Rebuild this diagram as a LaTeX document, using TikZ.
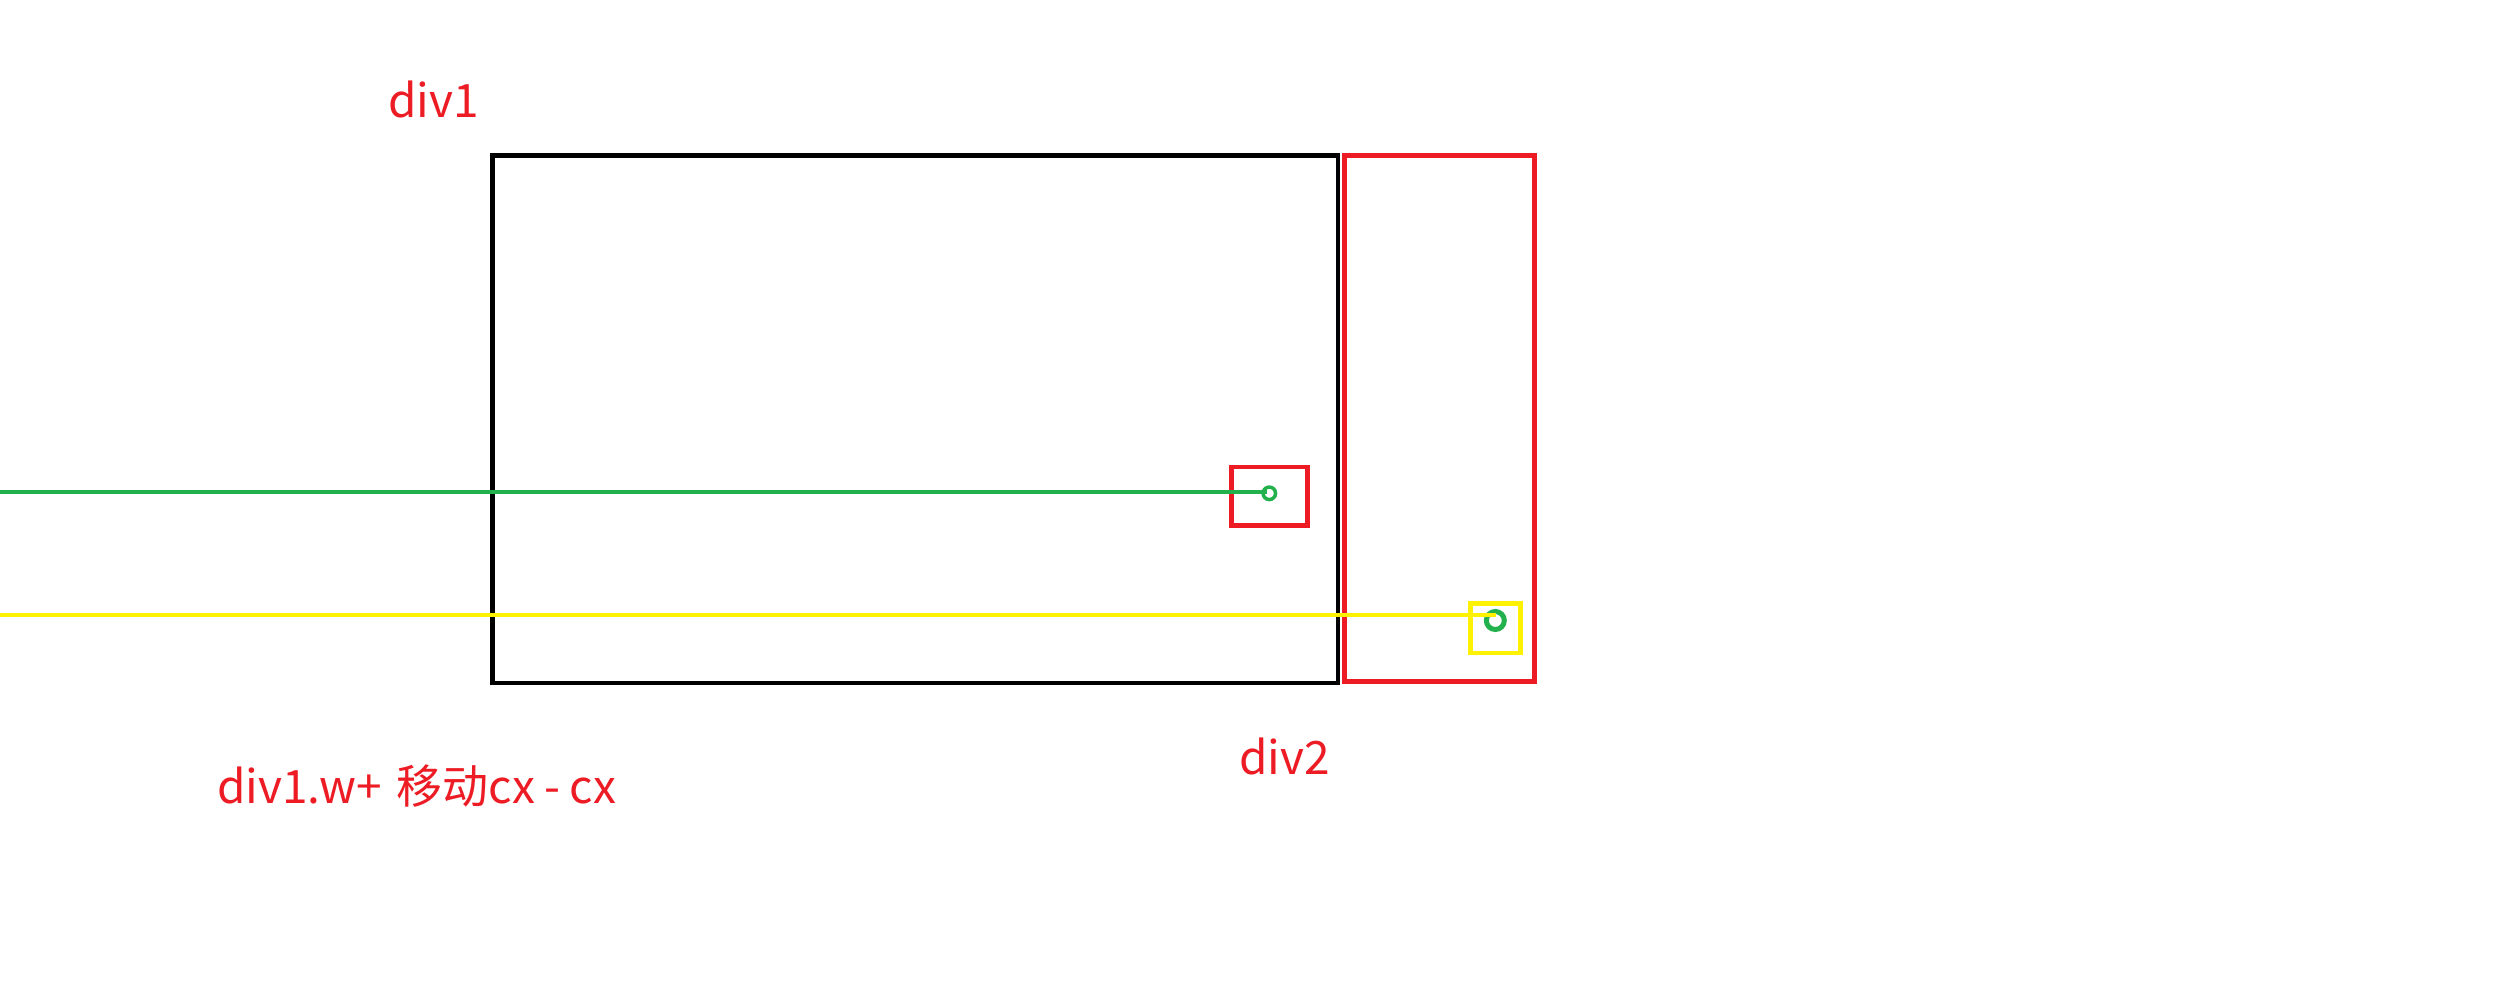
\documentclass[tikz,border=0pt]{standalone}
\usepackage{fontspec}
\setmainfont{Noto Sans CJK SC}
\definecolor{pred}{RGB}{237,28,36}
\definecolor{pgreen}{RGB}{34,177,76}
\definecolor{pyellow}{RGB}{255,242,0}
\begin{document}
\begin{tikzpicture}[x=1pt,y=-1pt,
  box/.style={draw,line width=4.6pt,inner sep=0pt,fill=none},
  dot/.style={circle,draw=pgreen,inner sep=0pt},
  lbl/.style={text=pred,font=\fontsize{46}{52}\selectfont,anchor=base west,inner sep=0pt}]
\useasboundingbox[fill=white] (0,0) rectangle (2518,999);
% black div1
\node[box,draw=black,line width=4.8pt,minimum width=845.5pt,minimum height=527.5pt] (div1) at (915.25,419.25) {};
% red div2
\node[box,draw=pred,minimum width=190pt,minimum height=526pt] (div2) at (1439.3,418.7) {};
% small red box
\node[box,draw=pred,minimum width=76.4pt,minimum height=58.5pt] (sbox) at (1269.5,496.25) {};
% yellow box
\node[box,draw=pyellow,minimum width=50pt,minimum height=49.5pt] (ybox) at (1495.5,628.25) {};
% green circles
\node[dot,line width=3.5pt,minimum size=12.5pt] (c1) at (1269.3,493.3) {};
\node[dot,line width=5pt,minimum size=18pt] (c2) at (1495.3,620.5) {};
% lines
\coordinate (g0) at (0,491.5);
\coordinate (y0) at (0,615);
\coordinate (g1) at (1266.7,491.5);
\coordinate (y1) at (1496,615);
\draw[pgreen,line width=4pt] (g0) -- (g1);
\draw[pyellow,line width=4.6pt] (y0) -- (y1);
% labels
\node[lbl] (t1) at (388,117) {div1};
\node[lbl] (t2) at (1239,774) {div2};
\node[lbl] (t3) at (217,803) {div1.w+\hspace{15pt}移动cx\hspace{9pt}-\hspace{9pt}cx};
\end{tikzpicture}
\end{document}
